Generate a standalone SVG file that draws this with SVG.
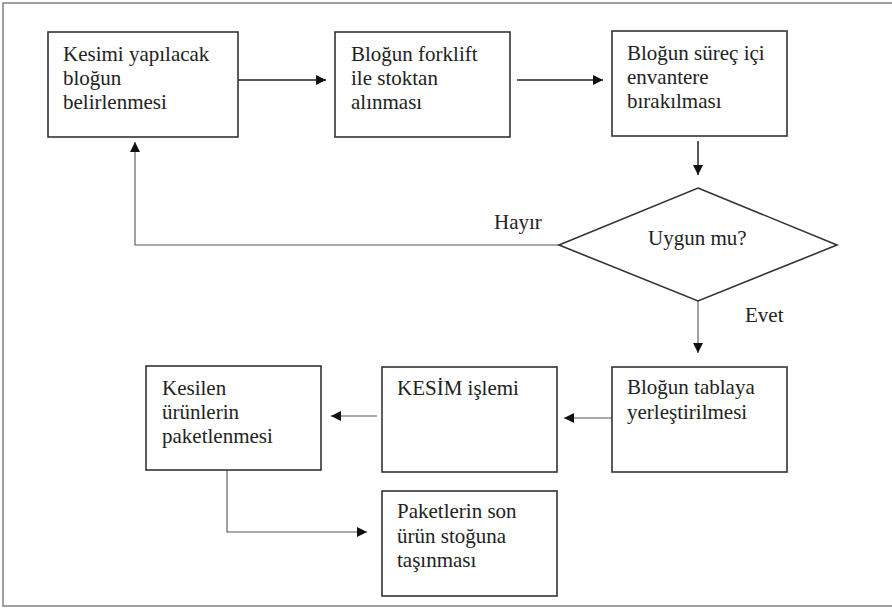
<svg xmlns="http://www.w3.org/2000/svg" width="892" height="608" viewBox="0 0 892 608">
<defs>
<style>
.frame{fill:none;stroke:#808080;stroke-width:1.5}
.box{fill:#fff;stroke:#333;stroke-width:1.6}
.t{font-size:21px;fill:#222}
.c{fill:none;stroke:#222;stroke-width:1.5}
.cg{fill:none;stroke:#555;stroke-width:1.1}
</style>
<marker id="ah" viewBox="0 0 10 10" refX="10" refY="5" markerWidth="10" markerHeight="10" markerUnits="userSpaceOnUse" orient="auto">
<path d="M0,0 L10,5 L0,10 Z" fill="#111"/>
</marker>
</defs>
<rect x="0" y="0" width="892" height="608" fill="#fff"/>
<rect class="frame" x="3" y="3" width="900" height="603"/>
<g font-family="'Liberation Serif', 'Times New Roman', Times, 'DejaVu Serif', serif">
<g id="connectors">
<line class="c" x1="238" y1="80" x2="326" y2="80" marker-end="url(#ah)"/>
<line class="c" x1="517" y1="80" x2="603" y2="80" marker-end="url(#ah)"/>
<line class="c" x1="698" y1="141" x2="698" y2="175" marker-end="url(#ah)"/>
<polyline class="cg" points="559,245 135,245 135,142" marker-end="url(#ah)"/>
<line class="cg" x1="698" y1="301" x2="698" y2="353" marker-end="url(#ah)"/>
<line class="cg" x1="612" y1="418" x2="564" y2="418" marker-end="url(#ah)"/>
<line class="cg" x1="377" y1="416" x2="331" y2="416" marker-end="url(#ah)"/>
<polyline class="cg" points="227,470 227,532 367,532" marker-end="url(#ah)"/>
<text class="t" x="494" y="229">Hayır</text>
<text class="t" x="745" y="322">Evet</text>
</g>
<g id="n1">
<rect class="box" x="48" y="32" width="190" height="105"/>
<text class="t" x="63" y="61">Kesimi yapılacak</text>
<text class="t" x="63" y="85">bloğun</text>
<text class="t" x="63" y="109">belirlenmesi</text>
</g>
<g id="n2">
<rect class="box" x="335" y="32" width="175" height="105"/>
<text class="t" x="351" y="61">Bloğun forklift</text>
<text class="t" x="351" y="85">ile stoktan</text>
<text class="t" x="351" y="109">alınması</text>
</g>
<g id="n3">
<rect class="box" x="612" y="31" width="175" height="105"/>
<text class="t" x="627" y="60">Bloğun süreç içi</text>
<text class="t" x="627" y="84">envantere</text>
<text class="t" x="627" y="108">bırakılması</text>
</g>
<g id="n4">
<polygon class="box" points="698,188 837,245 698,301 559,245"/>
<text class="t" x="648" y="245">Uygun mu?</text>
</g>
<g id="n5">
<rect class="box" x="612" y="367" width="175" height="105"/>
<text class="t" x="627" y="394">Bloğun tablaya</text>
<text class="t" x="627" y="419">yerleştirilmesi</text>
</g>
<g id="n6">
<rect class="box" x="382" y="367" width="175" height="105"/>
<text class="t" x="397" y="395">KESİM işlemi</text>
</g>
<g id="n7">
<rect class="box" x="146" y="366" width="175" height="104"/>
<text class="t" x="162" y="395">Kesilen</text>
<text class="t" x="162" y="419">ürünlerin</text>
<text class="t" x="162" y="443">paketlenmesi</text>
</g>
<g id="n8">
<rect class="box" x="382" y="491" width="175" height="105"/>
<text class="t" x="397" y="518">Paketlerin son</text>
<text class="t" x="397" y="543">ürün stoğuna</text>
<text class="t" x="397" y="567">taşınması</text>
</g>
</g>
</svg>
